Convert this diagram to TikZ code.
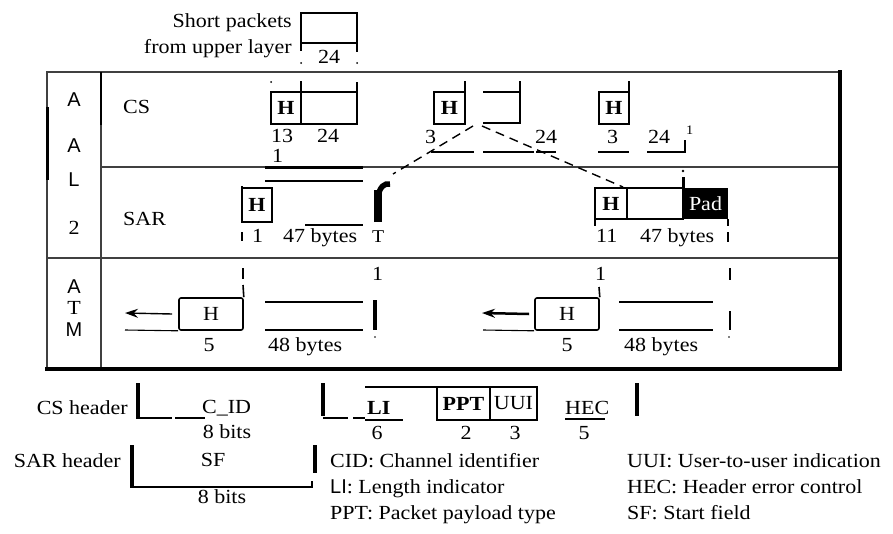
\documentclass[tikz,border=0pt]{standalone}
\usepackage{fontspec}
\setmainfont{Liberation Serif}[FakeStretch=1.1]
\newfontfamily\sansf{Liberation Sans}
\usetikzlibrary{arrows.meta}
\begin{document}
\begin{tikzpicture}[x=1pt,y=-1pt,
  every node/.style={inner sep=0pt, font=\fontsize{20}{24}\selectfont},
  txt/.style={anchor=base},
  txtl/.style={anchor=base west},
  txtr/.style={anchor=base east},
  sansl/.style={anchor=base, font=\sansf\fontsize{20}{22}\selectfont},
  small/.style={anchor=base west, font=\fontsize{13}{14}\selectfont},
  gridline/.style={line width=1.5pt, draw=black!75},
  pkt/.style={line width=1.6pt},
  thin/.style={line width=1.1pt},
  heavybar/.style={line width=3.5pt},
  hb/.style={draw, line width=1.6pt, minimum width=30pt, minimum height=32pt},
  atmbox/.style={draw, line width=1.6pt, rounded corners=2pt, minimum width=64pt, minimum height=32pt},
  dsh/.style={line width=1.4pt, dash pattern=on 9pt off 6pt},
  arr/.style={-{Stealth[length=13pt,width=9pt]}},
]
\useasboundingbox (0,0) rectangle (893,533);

% ---------- table ----------
\draw[gridline] (838,72) -- (47,72) -- (47,369);
\draw[gridline] (101,72) -- (101,369);
\draw[gridline] (101,167) -- (838,167);
\draw[gridline] (47,258) -- (838,258);
\draw[line width=3pt] (47,107) -- (47,180);
\draw[line width=2.5pt] (101,72) -- (101,125);
\draw[line width=4.5pt] (45,369) -- (842,369);
\draw[line width=4.5pt] (840,70) -- (840,371);

% left column
\node[sansl] (c1) at (74,106) {A};
\node[sansl] (c2) at (74,152) {A};
\node[sansl] (c3) at (74,186) {L};
\node[txt] (c4) at (74,234) {2};
\node[sansl] (c5) at (74,293) {A};
\node[txt] (c6) at (74,314) {T};
\node[sansl] (c7) at (74,336) {M};

\node[txtl] (rcs) at (123,113) {CS};
\node[txtl] (rsar) at (123,225) {SAR};

% ---------- short packets ----------
\node[txtr] (sp1) at (292,27) {Short packets};
\node[txtr] (sp2) at (292,53) {from upper layer};
\draw[pkt] (301,13) rectangle (357,43);
\draw[pkt] (301,43) -- (301,51);
\draw[pkt] (357,43) -- (357,52);
\fill (301,63) circle (1pt) (357,63) circle (1pt);
\node[txt] (sp24) at (329,63) {24};

% ---------- CS row ----------
\node[hb] (cs1h) at (286,108) {\textbf{H}};
\draw[pkt] (301,92) rectangle (357,124);
\draw[pkt] (301,92) -- (301,81);
\draw[pkt] (357,92) -- (357,82);
\fill (271,82) circle (1pt);
\node[txtl] (n13) at (271,142) {13};
\node[txtl] (n24a) at (317,142) {24};
\node[txtl] (n1a) at (272,162) {1};
\draw[line width=3pt] (265,167) -- (363,167);

\node[hb, minimum width=31pt] (cs2h) at (449.5,108) {\textbf{H}};
\draw[pkt] (465,92) -- (465,81);
\draw[pkt] (483,92) -- (520,92) -- (520,123) -- (483,123);
\draw[pkt] (520,92) -- (520,81);
\node[txtl] (n3b) at (425,143) {3};
\node[txtl] (n24b) at (535,143) {24};
\draw[thin] (431,152) -- (474,152);
\draw[thin] (483,152) -- (534,152);
\draw[thin] (536,152) -- (556,152);
\coordinate (dl0) at (473,126);
\coordinate (dl1) at (393,174);
\coordinate (dr0) at (482,126);
\coordinate (dr1) at (623,187);
\draw[dsh] (dl0) -- (dl1);
\draw[dsh] (dr0) -- (dr1);

\node[hb] (cs3h) at (614,108) {\textbf{H}};
\draw[pkt] (629,92) -- (629,81);
\node[txtl] (n3c) at (607,143) {3};
\node[txtl] (n24c) at (648,143) {24};
\node[small] (n1c) at (686,134) {1};
\draw[thin] (598,152) -- (629,152);
\draw[thin] (647,152) -- (685,152) -- (685,140);

% ---------- SAR row ----------
\node[hb, minimum height=34pt] (sar1h) at (257,205) {\textbf{H}};
\draw[line width=2.5pt] (242,186) -- (242,222);
\draw[thin] (242,232) -- (242,241);
\node[txtl] (s1) at (252,242) {1};
\node[txtl] (s47a) at (283,242) {47 bytes};
\draw[thin] (265,181) -- (363,181);
\draw[thin] (305,225) -- (363,225);
\node[txtl, font=\fontsize{18}{20}\selectfont] (sT) at (372,242) {T};
\draw[line width=7.5pt] (378,222) -- (378,190);
\draw[line width=5.5pt] (378,196) .. controls (380,187) and (384,183) .. (390,184);

\node[hb, minimum width=32pt, minimum height=31pt] (sar2h) at (611,203.5) {\textbf{H}};
\draw[pkt] (627,188) rectangle (683,219);
\node[fill=black, text=white, minimum width=45pt, minimum height=31pt] (pad) at (705.5,203.5) {Pad};
\draw[line width=2.5pt] (595,188) -- (595,226);
\draw[pkt] (728,219) -- (728,226);
\fill (683,171) circle (1.3pt);
\draw[line width=3pt] (683,177) -- (683,188);
\node[txtl] (s11) at (596,242) {11};
\node[txtl] (s47b) at (640,242) {47 bytes};
\draw[thin] (728,232) -- (728,242);

% ---------- ATM row ----------
\node[atmbox] (atm1h) at (211,314) {H};
\draw[pkt] (atm1h.north east) -- (243,285);
\draw[thin] (243,268) -- (243,279);
\coordinate (a1) at (125,313);
\draw[arr, line width=1.4pt] ([xshift=-6pt]atm1h.west) -- (a1);
\draw[thin] (125,330) -- (atm1h.south west);
\node[txt] (m5a) at (209,351) {5};
\node[txtl] (m48a) at (268,351) {48 bytes};
\draw[pkt] (265,302) -- (363,302);
\draw[pkt] (265,330) -- (363,330);
\draw[heavybar] (375,300) -- (375,330);
\fill (375,337) circle (0.8pt);
\node[txtl] (m1a) at (372,280) {1};

\node[atmbox] (atm2h) at (567,314) {H};
\draw[pkt] (atm2h.north east) -- (599,287);
\node[txtl] (m1b) at (595,280) {1};
\coordinate (a2) at (482,313);
\draw[arr, line width=2.5pt] ([xshift=-5pt]atm2h.west) -- (a2);
\draw[thin] (483,330) -- (atm2h.south west);
\node[txt] (m5b) at (567,351) {5};
\node[txtl] (m48b) at (624,351) {48 bytes};
\draw[pkt] (619,302) -- (713,302);
\draw[pkt] (619,330) -- (713,330);
\draw[pkt] (730,268) -- (730,280);
\draw[line width=2.5pt] (730,311) -- (730,330);
\fill (729,337) circle (0.8pt);

% ---------- header formats ----------
\node[txtr] (csh) at (128,414) {CS header};
\draw[heavybar] (138,383) -- (138,419);
\draw[line width=2.5pt] (138,418) -- (172,418);
\draw[line width=2.5pt] (175,418) -- (205,418);
\node[txtl] (cid) at (202,413) {C\_ID};
\node[txt] (b8a) at (227,438) {8 bits};
\draw[heavybar] (323,383) -- (323,416);
\draw[line width=2pt] (323,418) -- (348,418);
\draw[line width=2pt] (353,418) -- (365,418);
\draw[pkt] (365,387) -- (437,387);
\node[txtl] (li) at (367,414) {\textbf{LI}};
\draw[line width=2pt] (365,420) -- (403,420);
\node[draw, pkt, minimum width=53pt, minimum height=33pt] (ppt) at (463.5,403.5) {\textbf{PPT}};
\node[draw, pkt, minimum width=47pt, minimum height=33pt] (uui) at (513.5,403.5) {UUI};
\node[txtl] (hec) at (565,414) {HEC};
\draw[thin] (565,419) -- (605,419);
\draw[heavybar] (637,383) -- (637,416);
\node[txt] (f6) at (377,439) {6};
\node[txt] (f2) at (466,439) {2};
\node[txt] (f3) at (515,439) {3};
\node[txt] (f5) at (584,439) {5};

\node[txtr] (sarh) at (121,467) {SAR header};
\draw[heavybar] (132,445) -- (132,486);
\draw[pkt] (130,487) -- (312,487) -- (312,481);
\draw[heavybar] (315,445) -- (315,473);
\node[txt] (sf) at (213,466) {SF};
\node[txt] (b8b) at (222,503) {8 bits};

% ---------- legend ----------
\node[txtl] (lg1) at (330,467) {CID: Channel identifier};
\node[txtl] (lg2) at (330,493) {{\sansf LI}: Length indicator};
\node[txtl] (lg3) at (330,519) {PPT: Packet payload type};
\node[txtl] (lg4) at (627,467) {UUI: User-to-user indication};
\node[txtl] (lg5) at (627,493) {HEC: Header error control};
\node[txtl] (lg6) at (627,519) {SF: Start field};
\end{tikzpicture}
\end{document}
